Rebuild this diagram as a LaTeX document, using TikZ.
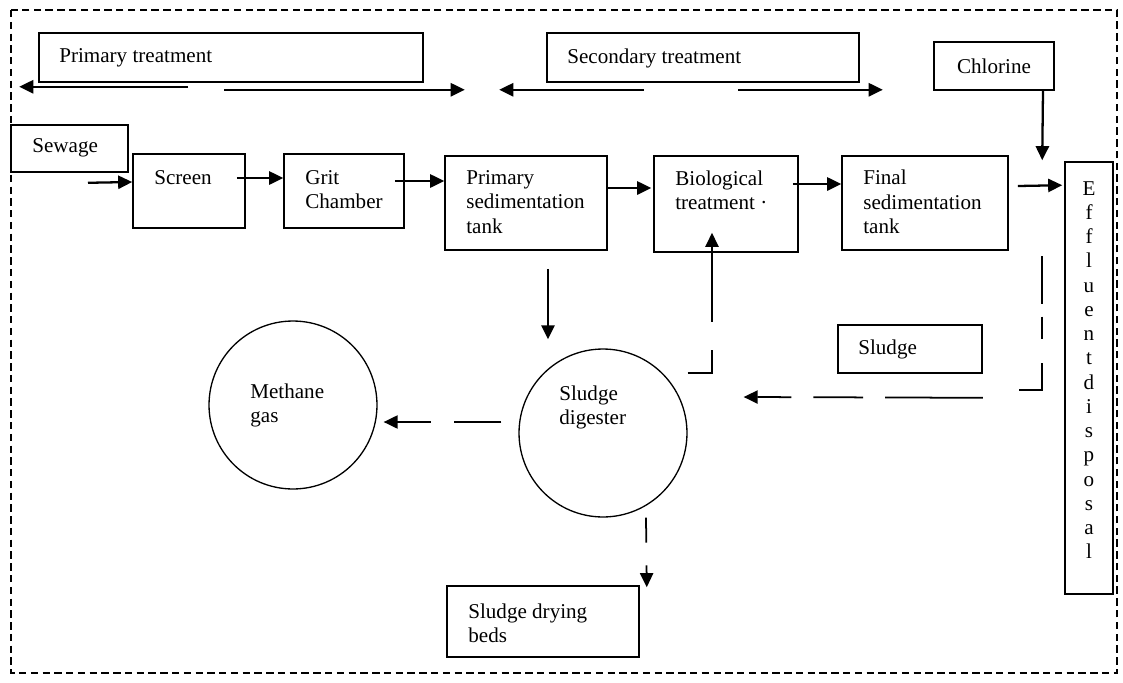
\documentclass[tikz,border=0pt]{standalone}
\usepackage{fontspec}
\setmainfont{Liberation Serif}
\usetikzlibrary{positioning,arrows.meta,fit}

\begin{document}
\begin{tikzpicture}[x=0.02cm, y=-0.02cm, font=\fontsize{12}{13.8}\selectfont,
  box/.style={draw, line width=0.9pt, inner sep=0pt},
  lbl/.style={anchor=west, align=left, inner sep=0pt},
  tank/.style={draw, circle, line width=0.75pt, minimum size=3.36cm, inner sep=0pt},
  arr/.style={line width=1.3pt, -{Triangle[length=8pt,width=7.5pt]}},
  darr/.style={arr, line width=1pt},
  rtn/.style={line width=1pt}]
  \useasboundingbox (0,0) rectangle (1123,683);
  \draw[line width=0.6pt, dash pattern=on 4.2pt off 2.5pt] (11,10) rectangle (1117,673);

  \node[box, fit={(39,33) (423,82)}] (prim) {}; \node[lbl] (primT) at (59,58) {Primary treatment};
  \draw[arr] ([shift={(-43,4)}]prim.south) -- ([shift={(-19,4)}]prim.south west);
  \draw[arr] ([shift={(-7,7)}]prim.south) -- ([shift={(41,7)}]prim.south east);
  \node[box, fit={(547,33) (859,82)}] (sec) {}; \node[lbl] (secT) at (567,58) {Secondary treatment};
  \draw[arr] ([shift={(-59,7)}]sec.south) -- ([shift={(-47,7)}]sec.south west);
  \draw[arr] ([shift={(35,7)}]sec.south) -- ([shift={(23,7)}]sec.south east);
  \node[box, fit={(934,42) (1054,90)}] (chlor) {}; \node (chlorT) at (chlor) {Chlorine};

  \node[box, fit={(11,125) (128,172)}] (sew) {}; \node[lbl] (sewT) at (32,148) {Sewage};
  \node[box, fit={(133,154) (245,228)}] (scr) {}; \node[lbl] (scrT) at (154,178) {Screen};
  \node[box, fit={(284,154) (404,228)}] (grit) {}; \node[lbl] (gritT) at (305,189.5) {Grit\\Chamber};
  \node[box, fit={(445,156) (607,250)}] (psed) {}; \node[lbl] (psedT) at (466,202) {Primary\\sedimentation\\tank};
  \node[box, fit={(654,156) (798,252)}] (bio) {}; \node[lbl] (bioT) at (675,190.5) {Biological\\treatment ·};
  \node[box, fit={(842,156) (1008,250)}] (fin) {}; \node[lbl] (finT) at (863,202) {Final\\sedimentation\\tank};
  \node[box, fit={(1065,162) (1113,594)}] (effl) {};
  \node[align=center, inner sep=0pt] (efflT) at (1089,370) {E\\f\\f\\l\\u\\e\\n\\t\\d\\i\\s\\p\\o\\s\\a\\l};

  \draw[arr] ([shift={(18.5,10)}]sew.south) -- ([shift={(0,-9)}]scr.west);
  \draw[arr] ([shift={(-9,-13)}]scr.east) -- ([shift={(0,-13)}]grit.west);
  \draw[arr] ([shift={(-10,-10)}]grit.east) -- ([shift={(0,-22)}]psed.west);
  \draw[arr] ([shift={(0,-15)}]psed.east) -- ([shift={(-2,-16)}]bio.west);
  \draw[arr] ([shift={(-6,-20)}]bio.east) -- ([shift={(0,-19)}]fin.west);
  \draw[arr] ([shift={(9,-17)}]fin.east) -- ([shift={(-2,24)}]effl.north west);
  \draw[arr] ([shift={(49,0)}]chlor.south) -- ([shift={(-22,-1)}]effl.north west);

  \node[box, fit={(838,325) (982,373)}] (sbox) {}; \node[lbl] (sboxT) at (858,349) {Sludge};
  \node[tank] (meth) at (293,405) {}; \node[lbl] (methT) at (250,405.5) {Methane\\gas};
  \node[tank] (dig) at (603,433) {}; \node[lbl] (digT) at (559,407.5) {Sludge\\digester};
  \node[box, fit={(447,586) (639,657)}] (dry) {}; \node[lbl] (dryT) at (468,623) {Sludge drying\\beds};

  \draw[rtn, dash pattern=on 27pt off 7.4pt on 12.5pt off 14pt on 40pt]
    ([shift={(-22,95)}]effl.north west) |- ([shift={(36,16)}]sbox.south east);
  \draw[darr, dash pattern=on 55.6pt off 12.5pt on 28.4pt off 12.5pt on 60pt]
    ([shift={(0,24)}]sbox.south east) -- ([shift={(56,-36)}]dig.east);
  \draw[darr, dash pattern=on 27.2pt off 15.9pt on 80pt]
    ([shift={(0,-60)}]dig.east) -| ([shift={(-14,-20)}]bio.south);
  \draw[arr] ([shift={(22,18)}]psed.south) -- ([shift={(-55,-9)}]dig.north);
  \draw[darr, dash pattern=on 27.2pt off 13pt on 40pt]
    ([shift={(-17,-11)}]dig.west) -- ([shift={(6,17)}]meth.east);
  \draw[darr, dash pattern=on 14.2pt off 13pt on 30pt]
    ([shift={(43,0)}]dig.south) -- ([shift={(7,2)}]dry.north east);
\end{tikzpicture}
\end{document}
